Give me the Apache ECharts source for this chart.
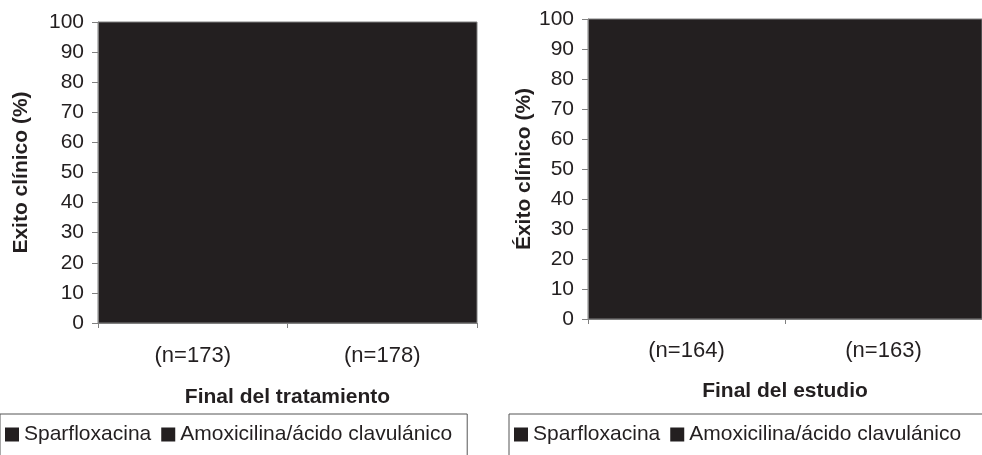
<!DOCTYPE html>
<html>
<head>
<meta charset="utf-8">
<script src="https://cdn.jsdelivr.net/npm/echarts@6/dist/echarts.min.js"></script>
<style>
  html, body { margin: 0; padding: 0; background: #ffffff; }
  #chart { width: 982px; height: 455px; }
</style>
</head>
<body>
<div id="chart"></div>
<script>
// Treatment groups (legend entries)
const seriesNames = ['Sparfloxacina', 'Amoxicilina/ácido clavulánico'];

// Panel 1: end of treatment
const catsTreatment = ['(n=173)', '(n=178)'];
const sparfloxTreatment = [88, '-'];
const amoxiTreatment = ['-', 86];

// Panel 2: end of study
const catsStudy = ['(n=164)', '(n=163)'];
const sparfloxStudy = [84, '-'];
const amoxiStudy = ['-', 82];

// Y axis ticks
const yMin = 0, yMax = 100, yStep = 10;

const INK = '#231f20';
const AXIS = '#808080';
const FONT = "'Liberation Sans', Arial, Helvetica, sans-serif";

function yAxisFor(gridIndex, title, gap) {
  return {
    type: 'value', gridIndex, min: yMin, max: yMax, interval: yStep,
    name: title, nameLocation: 'middle', nameGap: gap,
    nameTextStyle: { color: INK, fontSize: 21, fontWeight: 'bold', fontFamily: FONT },
    axisLine: { show: true, lineStyle: { color: AXIS, width: 1 } },
    axisTick: { show: true, length: 6, lineStyle: { color: AXIS } },
    axisLabel: { color: INK, fontSize: 21, fontFamily: FONT, margin: 14 },
    splitLine: { show: false }
  };
}

function xAxisFor(gridIndex, cats, title, gap, margin) {
  return {
    type: 'category', gridIndex, data: cats, boundaryGap: true,
    name: title, nameLocation: 'middle', nameGap: gap,
    nameTextStyle: { color: INK, fontSize: 21, fontWeight: 'bold', fontFamily: FONT },
    axisLine: { show: true, lineStyle: { color: AXIS, width: 1 } },
    axisTick: { show: true, length: 5, lineStyle: { color: AXIS } },
    axisLabel: { color: INK, fontSize: 22, fontFamily: FONT, margin: margin }
  };
}

// Bars share the plot fill colour; they sit beneath the grid frame and axes
function bar(name, idx, data) {
  return {
    type: 'bar', name, xAxisIndex: idx, yAxisIndex: idx, data,
    barWidth: '60%', barGap: '-100%', z: -1,
    itemStyle: { color: INK }
  };
}

function legendAt(left, rightPad) {
  return {
    left, top: 414, orient: 'horizontal', width: 700,
    data: seriesNames,
    icon: 'rect', itemWidth: 14, itemHeight: 14, itemGap: 10,
    padding: [10, rightPad, 30, 5],
    borderColor: '#555555', borderWidth: 1,
    textStyle: { color: INK, fontSize: 21, fontFamily: FONT },
    selectedMode: false
  };
}

const chart = echarts.init(document.getElementById('chart'), null, { renderer: 'canvas' });
chart.setOption({
  animation: false,
  backgroundColor: '#ffffff',
  grid: [
    { left: 98, top: 22, width: 379, height: 301, show: true,
      backgroundColor: INK, borderColor: AXIS, borderWidth: 1 },
    { left: 588, top: 19, width: 406, height: 300, show: true,
      backgroundColor: INK, borderColor: AXIS, borderWidth: 1 }
  ],
  xAxis: [
    xAxisFor(0, catsTreatment, 'Final del tratamiento', 64, 22),
    xAxisFor(1, catsStudy, 'Final del estudio', 62, 21)
  ],
  yAxis: [
    yAxisFor(0, 'Exito clínico (%)', 66),
    yAxisFor(1, 'Éxito clínico (%)', 51)
  ],
  legend: [legendAt(0, 15), legendAt(509, 60)],
  series: [
    bar(seriesNames[0], 0, sparfloxTreatment),
    bar(seriesNames[1], 0, amoxiTreatment),
    bar(seriesNames[0], 1, sparfloxStudy),
    bar(seriesNames[1], 1, amoxiStudy)
  ]
});
</script>
</body>
</html>
